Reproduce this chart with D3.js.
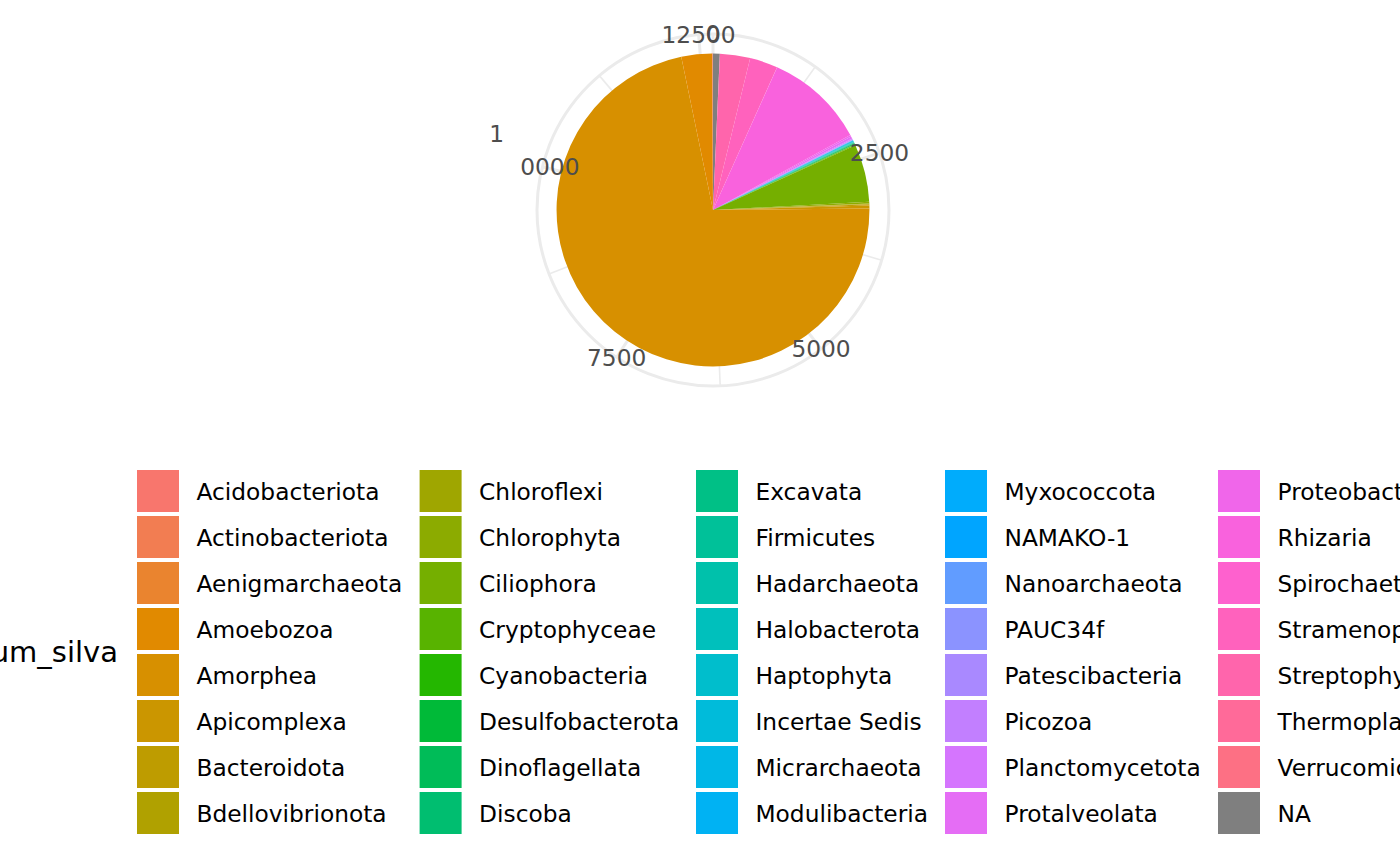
<!DOCTYPE html>
<html>
<head>
<meta charset="utf-8">
<script src="https://cdn.jsdelivr.net/npm/d3@7"></script>
<style>
  body { margin: 0; background: #fff; }
  text { font-family: "DejaVu Sans", sans-serif; }
</style>
</head>
<body>
<svg width="1400" height="866"></svg>
<script>
// phyla in legend order (alphabetical, NA last) and read-off read counts
var phyla = ["Acidobacteriota", "Actinobacteriota", "Aenigmarchaeota", "Amoebozoa", "Amorphea",
  "Apicomplexa", "Bacteroidota", "Bdellovibrionota", "Chloroflexi", "Chlorophyta",
  "Ciliophora", "Cryptophyceae", "Cyanobacteria", "Desulfobacterota", "Dinoflagellata",
  "Discoba", "Excavata", "Firmicutes", "Hadarchaeota", "Halobacterota",
  "Haptophyta", "Incertae Sedis", "Micrarchaeota", "Modulibacteria", "Myxococcota",
  "NAMAKO-1", "Nanoarchaeota", "PAUC34f", "Patescibacteria", "Picozoa",
  "Planctomycetota", "Protalveolata", "Proteobacteria", "Rhizaria", "Spirochaetota",
  "Stramenopiles", "Streptophyta", "Thermoplasmatota", "Verrucomicrobiota", "NA"];

var counts = [4, 6, 1, 401, 9105,
  40, 15, 4, 6, 22,
  756, 8, 6, 4, 10,
  6, 5, 4, 1, 3,
  8, 10, 1, 1, 3,
  1, 1, 1, 4, 6,
  12, 30, 20, 1308, 2,
  366, 394, 1, 1, 88];

var thetaMajor = [0, 2500, 5000, 7500, 10000, 12500];
var thetaMinor = [1250, 3750, 6250, 8750, 11250];
var legendTitle = "phylum_silva";

// R's hcl() (polar LUV) so the colours match ggplot's hue palette
function hcl(h, c, l) {
  var hr = h * Math.PI / 180,
      U = c * Math.cos(hr), V = c * Math.sin(hr),
      Y = 100 * (l > 7.999592 ? Math.pow((l + 16) / 116, 3) : l / 903.3),
      u = U / (13 * l) + 0.1978398,
      v = V / (13 * l) + 0.4683363,
      X = 9 * Y * u / (4 * v),
      Z = -X / 3 - 5 * Y + 3 * Y / v;
  function g(t) {
    t = t > 0.00304 ? 1.055 * Math.pow(t, 1 / 2.4) - 0.055 : 12.92 * t;
    return Math.round(255 * Math.max(0, Math.min(1, t)));
  }
  return d3.rgb(g((3.240479 * X - 1.537150 * Y - 0.498535 * Z) / 100),
                g((-0.969256 * X + 1.875992 * Y + 0.041556 * Z) / 100),
                g((0.055648 * X - 0.204043 * Y + 1.057311 * Z) / 100)).formatHex();
}

var nLev = phyla.length - 1;
var colour = d3.scaleOrdinal()
  .domain(phyla)
  .range(phyla.map(function(p, i) {
    return p === "NA" ? "#7F7F7F" : hcl(15 + 360 / nLev * i, 100, 65);
  }));

var data = phyla.map(function(p, i) { return {phylum: p, n: counts[i]}; });
var total = d3.sum(counts);

var svg = d3.select("svg"),
    cx = 713, cy = 210,
    R = 176,                     // outer grid circle (0.45 of panel)
    pieR = R * 0.4 / 0.45;       // bar reaches 0.4 of panel

var theta = d3.scaleLinear().domain([0, total]).range([0, 2 * Math.PI]);

var g = svg.append("g").attr("transform", "translate(" + cx + "," + cy + ")");

// grid: outer circle and spokes
g.append("circle").attr("r", R)
  .attr("fill", "none").attr("stroke", "#EBEBEB").attr("stroke-width", 3);

g.selectAll(".minor").data(thetaMinor).enter().append("line")
  .attr("x1", 0).attr("y1", 0)
  .attr("x2", function(d) { return R * Math.sin(theta(d)); })
  .attr("y2", function(d) { return -R * Math.cos(theta(d)); })
  .attr("stroke", "#EBEBEB").attr("stroke-width", 1.6);

g.selectAll(".major").data(thetaMajor).enter().append("line")
  .attr("x1", 0).attr("y1", 0)
  .attr("x2", function(d) { return R * Math.sin(theta(d)); })
  .attr("y2", function(d) { return -R * Math.cos(theta(d)); })
  .attr("stroke", "#EBEBEB").attr("stroke-width", 3);

// slices: stacked with the last level at the start (12 o'clock), clockwise
var pie = d3.pie().sort(null).value(function(d) { return d.n; });
var arc = d3.arc().innerRadius(0).outerRadius(pieR);

g.selectAll(".slice").data(pie(data.slice().reverse())).enter().append("path")
  .attr("class", "slice")
  .attr("d", arc)
  .attr("fill", function(d) { return colour(d.data.phylum); });

// theta labels
var fs = 23.3;
thetaMajor.forEach(function(v) {
  var a = theta(v),
      x = R * Math.sin(a),
      y = -R * Math.cos(a) + 0.36 * fs;
  if (v === 10000) {
    // the reference draws this label broken: the "1" sits up and left of "0000"
    var tmp = g.append("text").style("font-size", fs + "px").text("10000");
    var w = tmp.node().getComputedTextLength();
    tmp.remove();
    g.append("text").attr("x", x + w / 2).attr("y", y)
      .attr("text-anchor", "end").style("font-size", fs + "px").attr("fill", "#4D4D4D")
      .text("0000");
    g.append("text").attr("x", x - w / 2 - 16).attr("y", y - 33)
      .attr("text-anchor", "start").style("font-size", fs + "px").attr("fill", "#4D4D4D")
      .text("1");
  } else {
    g.append("text").attr("x", x).attr("y", y)
      .attr("text-anchor", "middle").style("font-size", fs + "px").attr("fill", "#4D4D4D")
      .text(d3.format("d")(v));
  }
});

// legend: 8 rows, filled column by column
var colX = [137, 419.6, 696, 945, 1218],
    rowTop = 470, rowStep = 46, keySize = 42, nRows = 8;

svg.append("text")
  .attr("x", 118).attr("y", 662)
  .attr("text-anchor", "end")
  .style("font-size", "29px")
  .attr("fill", "#000")
  .text(legendTitle);

var item = svg.selectAll(".item").data(data).enter().append("g")
  .attr("class", "item")
  .attr("transform", function(d, i) {
    return "translate(" + colX[Math.floor(i / nRows)] + "," + (rowTop + (i % nRows) * rowStep) + ")";
  });

item.append("rect")
  .attr("width", keySize).attr("height", keySize)
  .attr("fill", function(d) { return colour(d.phylum); });

item.append("text")
  .attr("x", 59.5).attr("y", 30)
  .style("font-size", fs + "px")
  .attr("fill", "#000")
  .text(function(d) { return d.phylum; });
</script>
</body>
</html>
